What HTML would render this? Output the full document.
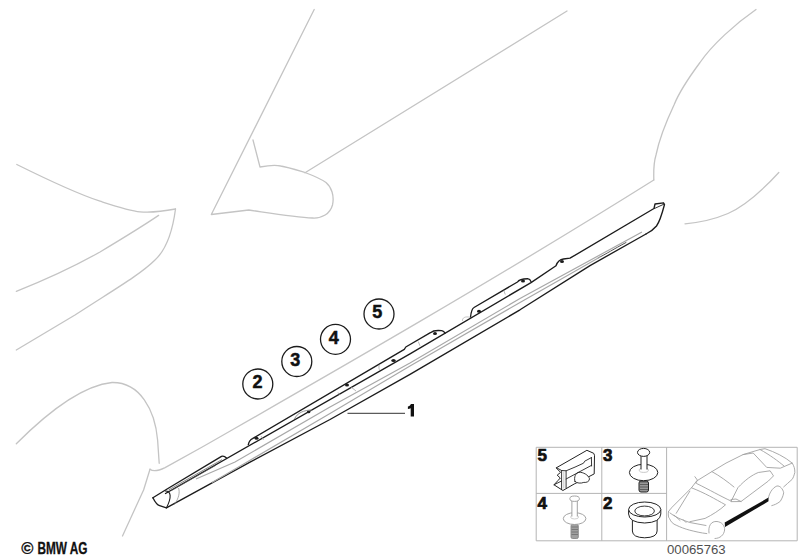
<!DOCTYPE html>
<html><head><meta charset="utf-8">
<style>
html,body{margin:0;padding:0;background:#fff;}
body{width:799px;height:559px;position:relative;overflow:hidden;font-family:"Liberation Sans",sans-serif;}
svg{position:absolute;left:0;top:0;}
</style></head><body>
<svg width="799" height="559" viewBox="0 0 799 559">
<!-- light body outline -->
<g fill="none" stroke="#c4c4c4" stroke-width="1.3" stroke-linecap="round" stroke-linejoin="round">
  <path d="M16.8,164.5 C40,176 75,193 100,201.2 C118,207 130,211 140,211.8 C152,212.8 165,211 175.5,209"/>
  <path d="M158.6,215.4 C140,228 120,240 100,252 C75,266 45,280 16.3,291.3"/>
  <path d="M175.5,209 C173,228 168,248 155,260 C140,275 110,292 75,315 L16.3,350"/>
  <path d="M16.3,443.8 C40,420 78,386 112,382.5 C140,382 155,410 157.6,440 L159.2,463.3"/>
  <path d="M150,469.2 C152,471 157,471.5 165.1,467.6 L200,448.3 C300,391 480,289 653.8,180"/>
  <path d="M150,469.2 L143.6,490 C138,502 130,520 122.5,536"/>
  <path d="M314.2,9.5 L211.3,214.5 L248.8,210 C270,213 295,217 312.6,218 C322,218.5 330,214 332.5,205 C334.5,196 331.5,187 326,182.5 C321,179 313,175.5 305,172.5 C295,169.5 287,167 280.7,166 C277,165 270,165 260,167 L253,140"/>
  <path d="M305,172.8 L567,11"/>
  <path d="M756,9.5 C735,24 712,45 700,62.5 C690,76 680,90 674,105 C666,122 659,140 656,155 C653,165 653.8,172 653.8,180"/>
  <path d="M685,223.8 C700,222.5 715,219 728,213.5 C745,206 760,193 778.8,172.5"/>
</g>

<!-- sill -->
<g fill="none" stroke="#1c1c1c" stroke-width="1.35" stroke-linejoin="round" stroke-linecap="round">
  <!-- outer top edge left + end cap -->
  <path d="M152.9,497.8 L167.5,488.8 L221.5,456.4 C223.5,455.6 225,456.5 226.5,458"/>
  <!-- flange segment 1 -->
  <path d="M248.3,444.6 C249,441.5 250.5,439.5 252.5,438.6 L404.3,349.3 L405.8,347 L430.4,332.7 C433,330.5 436,330 441.7,330.7 C443.5,331.2 444.5,332.2 445,333.2"/>
  <!-- flange segment 2 -->
  <path d="M470.5,317.3 C471,312.5 472,308.5 474,307.5 L517.5,282 C519,279.5 522,278.7 527.5,278.7 C529.5,279 530.5,280 531,281.6"/>
  <!-- sill top T -->
  <path d="M165.5,493.5 L410,353.8 L531,282.6 L556,265.8 C557.5,261.5 560,259.4 563.5,259 L570,258.2 L654,208.5 L655,204 L663.5,202.8 L664.5,204.5 C662,214 659.5,222 656.5,226 C654,229 651,231.5 646,234"/>
  <!-- bottom B -->
  <path d="M152.9,497.8 C155,502 157,505 159.6,505.7 L166.4,507.9 L250,462.2 L330,419.5 L410,374.4 L520,309.8 L590,265.6 L646,234"/>
  <!-- end cap face -->
  <path d="M165.5,491 C171,491 172,497 166.4,507.9" stroke-width="1.1"/>
  <path d="M654.5,208.5 L663.8,204.2" stroke-width="0.9"/>
  <path d="M598,258 C606,254 614,249 626,242.5" stroke="#555" stroke-width="1"/>
</g>
<g fill="none" stroke="#555" stroke-width="0.7">
  <path d="M168.5,490 L222,459.6 M171,490.8 L216,465.2"/>
  <path d="M178.5,488 C180,492 179,498 174.5,504.5" stroke="#888"/>
  <path d="M312,410 C304,410 297,413 294.5,419" stroke="#888" stroke-width="0.9"/>
  <path d="M379.4,364.6 C378.8,366 378.8,368 379.4,369.8" stroke="#999"/>
  <path d="M418.3,341.6 L420,345.8" stroke="#999"/>
  <path d="M470.5,317.3 C465,316 462,318 462.5,321" stroke="#aaa"/>
  <path d="M351,387 L356,391 M338,392.5 L339.5,395" stroke="#999"/>
  <path d="M261,436 L263.5,440 M503.8,290.6 L505.3,294.5" stroke="#999"/>
</g>
<g fill="none" stroke="#a8a8a8" stroke-width="1.2">
  <path d="M196,479 L235,462 L330,407 L410,363 L520,298.5 L642,232"/>
  <path d="M212,482.5 L245,463.2 L330,413.5 L410,366 L520,302.5 L600,257"/>
</g>
<g fill="#1c1c1c">
  <ellipse cx="256.5" cy="438.2" rx="2" ry="1.5"/>
  <ellipse cx="347" cy="385" rx="2" ry="1.5"/>
  <ellipse cx="393.5" cy="360.5" rx="2.2" ry="1.5"/>
  <ellipse cx="308.6" cy="412" rx="1.8" ry="1.2"/>
  <ellipse cx="435" cy="333.5" rx="2" ry="1.5"/>
  <ellipse cx="479" cy="311.2" rx="2" ry="1.5"/>
  <ellipse cx="523" cy="281" rx="2" ry="1.5"/>
  <ellipse cx="562" cy="261.5" rx="2" ry="1.5"/>
</g>

<!-- callouts -->
<g fill="none" stroke="#1c1c1c" stroke-width="1.3">
  <circle cx="257.8" cy="384" r="15"/>
  <circle cx="296.8" cy="361.5" r="15"/>
  <circle cx="335.5" cy="339.3" r="15"/>
  <circle cx="379" cy="314" r="15"/>
  <path d="M347.5,413.3 L405,413.3" stroke="#333" stroke-width="1"/>
</g>
<g font-family="Liberation Sans" font-weight="bold" font-size="18" fill="#111" stroke="#111" stroke-width="0.5" text-anchor="middle">
  <text x="257.6" y="387.8">2</text>
  <text x="295.2" y="365.6">3</text>
  <text x="333.8" y="343.6">4</text>
  <text x="377.2" y="318.3">5</text>
</g>

<path d="M410.9,403.9 L414,403.9 L414,416.6 L410.7,416.6 L410.7,408.2 C409.9,408.5 408.9,408.8 407.9,408.9 L407.9,406.5 C409.2,406.1 410.3,405.3 410.9,403.9 Z" fill="#111"/>
<!-- inset box -->
<g fill="none" stroke="#b4b4b4" stroke-width="1">
  <path d="M536.2,447.3 H797.2 V540.8 H536.2 Z"/>
  <path d="M601.8,447.3 V540.8 M666.6,447.3 V540.8 M536.2,493.4 H666.6"/>
</g>
<g font-family="Liberation Sans" font-weight="bold" font-size="17" fill="#111" stroke="#111" stroke-width="0.7">
  <text x="537.6" y="461.4">5</text>
  <text x="603" y="461.4">3</text>
  <text x="537.6" y="509.4">4</text>
  <text x="603" y="509.4">2</text>
</g>
<text x="667" y="553.8" font-family="Liberation Sans" font-size="13.2" fill="#505050">00065763</text>

<!-- part 5 clip -->
<g fill="#fff" stroke="#222" stroke-width="1" stroke-linejoin="round" stroke-linecap="round">
  <path d="M556.5,467.7 L586.9,450.3 L593.7,453.3 L594.5,455.3 L594.2,473.9 L588.6,476.8 L574.2,484 L562.9,490.5 L554,484.8 L558,480.5 L560.3,478 L557.2,475.2 L560.3,472.6 Z"/>
  <path d="M575,481.5 C573.5,477 576,472.5 579,472.3 C583,472 588.5,475 589.5,478.8 C589.5,481.5 586.5,482.8 583.8,482.4 C581,483.5 577,483.5 575,481.5 Z" stroke-width="0.9"/>
  <path d="M556.5,467.7 L561.6,470.5 L566.1,470.8 L575,467.1 L583.5,463.2 L584.7,461.2 L591.4,457.6 M561.6,470.5 V489.5 M566.1,470.8 V487.8 M566.1,479 L591.6,465.3 M591.4,457.6 L591.6,466 M554,484.8 L561.6,481" fill="none" stroke-width="0.9"/>
  <path d="M563.8,472 V488" fill="none" stroke="#bbb" stroke-width="0.8"/>
</g>
<!-- part 3 rivet -->
<g stroke="#222" stroke-width="1" fill="#fff">
  <rect x="639" y="481" width="9.5" height="11" rx="2" fill="#999"/>
  <path d="M640,482 H648 M640,484.5 H648 M640,487 H648 M640,489.5 H648" stroke="#444" stroke-width="0.7"/>
  <ellipse cx="643.6" cy="472.5" rx="14.2" ry="8.2"/>
  <ellipse cx="643.8" cy="470.2" rx="4.6" ry="2.2" stroke="#bbb" stroke-width="0.8"/>
  <path d="M641,455 V469.5 H647 V455 Z" stroke="none"/>
  <path d="M641,455 V469.5 M647,455 V469.5"/>
  <ellipse cx="643.6" cy="452.4" rx="6.1" ry="4"/>
</g>
<!-- part 4 rivet (light) -->
<g stroke="#999" stroke-width="0.9" fill="#fff">
  <rect x="571" y="524.5" width="7.3" height="14" rx="1.5" fill="#a0a0a0" stroke="#888"/>
  <path d="M571.5,527 H578 M571.5,529.5 H578 M571.5,532 H578 M571.5,534.5 H578" stroke="#6f6f6f" stroke-width="0.8"/>
  <ellipse cx="574.6" cy="518.6" rx="11.3" ry="5.9"/>
  <ellipse cx="574.6" cy="517" rx="4" ry="2" stroke="#bbb" stroke-width="0.7"/>
  <path d="M571.9,500 V516.5 H577.3 V500 Z" stroke="none"/>
  <path d="M571.9,500 V516.5 M577.3,500 V516.5"/>
  <ellipse cx="574.6" cy="498.7" rx="4.8" ry="2.7"/>
</g>
<!-- part 2 grommet -->
<g stroke="#222" stroke-width="1" fill="#fff">
  <path d="M632.4,517 V531 Q632.4,537.5 644.7,537.8 Q657.1,537.5 657.1,531 V517"/>
  <path d="M628.6,509.5 V514 Q629,522.5 644.7,523 Q660.4,522.5 660.8,514 V509.5"/>
  <ellipse cx="644.7" cy="509.5" rx="16.1" ry="7.5"/>
  <ellipse cx="644.6" cy="511" rx="9.8" ry="4.9" stroke-width="0.9"/>
</g>
<!-- car -->
<g fill="none" stroke="#a2a2a2" stroke-width="0.9" stroke-linejoin="round" stroke-linecap="round">
  <path d="M668.5,511.6 C668,515 668.5,518 669.4,518.4 C671,522 673,524 676.2,525.2 C680,527 685,529 689.8,530.2 C695,531.5 701,533 706.8,533.6"/>
  <path d="M668.5,511.6 L671.1,508.2 L691.5,487.8 L696.6,481 L711.9,471.6 L726,463.1 L743,454.6 L760,449.5 L765,448.7 C775,452 785,457 792.2,463.1 C794,466 795,469 794.8,472.5 C794,476 793,478 792.2,479.3 C789,482 786,485 783.7,486.9"/>
  <path d="M691.5,487.8 C705,493 715,499 725.5,504.8 C720,510 712,515 705.1,518.4 L689.8,521.7"/>
  <path d="M689.8,491.2 L676.2,513.3"/>
  <path d="M696.6,483.5 C710,490 720,496 731,501"/>
  <path d="M711.9,471.6 C720,476 728,482 734,487"/>
  <path d="M743,454.6 L753.2,453 L766.7,467.4 L780.3,468.2 L792.2,463.1"/>
  <path d="M760,449.5 C770,455 778,461 784,466"/>
  <path d="M731.1,501.3 L737.9,487.7 C745,480 752,475 758.3,472.5 L770.1,470.8 L773.5,475.9 L768.4,481 L741.3,501.3 Z"/>
  <path d="M694.9,476.7 L697.4,480.1 L696,483"/>
  <path d="M731,499.5 L736,499 L741,501.5"/>
  <path d="M709,533 C708,526 711,521 717,521.5 C722,522 725,526 724.6,530 C724,535 720,538.5 715,538.5"/>
  <path d="M768.4,498 C769,494 772,488 776.9,486 C780,485.5 783,489 783.7,492.8 C783,497 781,500 780.3,501.3 C777,504 774,505 771.8,505.6"/>
  <path d="M670,513 C675,517 682,520 689.8,522.5 L706,525.5"/>
  <path d="M674,515 L680,520.5 M683,519.5 L686,522.5"/>
</g>
<path d="M724.7,522.6 L768.5,497.6 L768.5,501.3 L725,527 Z" fill="#111"/>
</svg>
<svg width="799" height="559" style="position:absolute;left:0;top:0">
<text x="21.3" y="553.6" font-family="Liberation Sans" font-weight="bold" font-size="16.5" fill="#111" stroke="#111" stroke-width="0.3">©</text>
<text x="37.5" y="553.6" font-family="Liberation Sans" font-weight="bold" font-size="16" fill="#111" stroke="#111" stroke-width="0.3" textLength="50" lengthAdjust="spacingAndGlyphs">BMW AG</text>
</svg>
</body></html>
